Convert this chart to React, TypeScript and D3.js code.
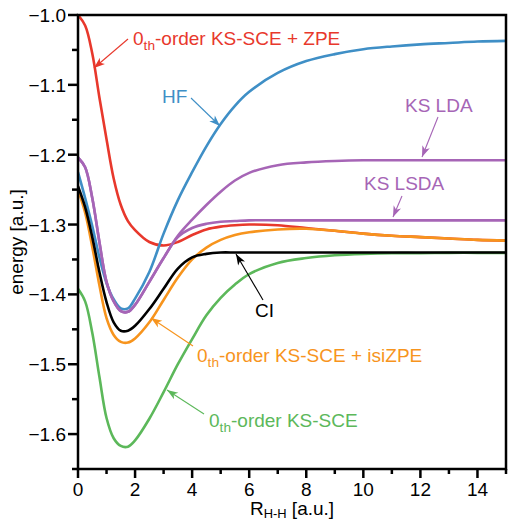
import React from "react";
import * as d3 from "d3";

const rGrid = [0, 0.25, 0.5, 0.75, 1, 1.25, 1.5, 1.75, 2, 2.5, 3, 3.5, 4, 4.5, 5, 5.5, 6, 7, 8, 9, 10, 11, 12, 13, 14, 15];

const zpe = [-1.0, -1.015, -1.055, -1.118, -1.178, -1.234, -1.272, -1.295, -1.308, -1.325, -1.33, -1.325, -1.315, -1.307, -1.303, -1.301, -1.3, -1.301, -1.305, -1.309, -1.313, -1.316, -1.318, -1.32, -1.322, -1.323];
const hf = [-1.225, -1.262, -1.302, -1.347, -1.384, -1.407, -1.42, -1.42, -1.406, -1.368, -1.313, -1.265, -1.225, -1.188, -1.156, -1.13, -1.11, -1.083, -1.066, -1.056, -1.049, -1.045, -1.042, -1.04, -1.038, -1.037];
const lda = [-1.204, -1.218, -1.262, -1.325, -1.382, -1.41, -1.424, -1.425, -1.415, -1.382, -1.348, -1.316, -1.293, -1.272, -1.253, -1.237, -1.226, -1.215, -1.211, -1.209, -1.208, -1.208, -1.208, -1.208, -1.208, -1.208];
const lsda = [-1.204, -1.218, -1.262, -1.325, -1.382, -1.41, -1.424, -1.425, -1.415, -1.382, -1.348, -1.318, -1.305, -1.299, -1.296, -1.295, -1.294, -1.294, -1.294, -1.294, -1.294, -1.294, -1.294, -1.294, -1.294, -1.294];
const ci = [-1.245, -1.275, -1.318, -1.368, -1.411, -1.44, -1.452, -1.452, -1.445, -1.421, -1.392, -1.363, -1.347, -1.342, -1.34, -1.34, -1.34, -1.34, -1.34, -1.34, -1.34, -1.34, -1.34, -1.34, -1.34, -1.34];
const isizpe = [-1.25, -1.283, -1.332, -1.387, -1.434, -1.458, -1.468, -1.469, -1.463, -1.44, -1.408, -1.376, -1.35, -1.333, -1.322, -1.315, -1.311, -1.307, -1.306, -1.309, -1.313, -1.316, -1.318, -1.32, -1.322, -1.323];
const sce = [-1.392, -1.41, -1.455, -1.518, -1.577, -1.606, -1.617, -1.618, -1.609, -1.578, -1.54, -1.5, -1.464, -1.43, -1.405, -1.386, -1.371, -1.355, -1.348, -1.344, -1.342, -1.341, -1.341, -1.3405, -1.3405, -1.3405];

const xMajor = [0, 2, 4, 6, 8, 10, 12, 14];
const xMinor = [1, 3, 5, 7, 9, 11, 13, 15];
const yMajor = [-1.0, -1.1, -1.2, -1.3, -1.4, -1.5, -1.6];
const yMinor = [-1.05, -1.15, -1.25, -1.35, -1.45, -1.55, -1.65];

const RED = "#e8382c";
const BLUE = "#3f8fc6";
const PURPLE = "#a665b6";
const ORANGE = "#f7941d";
const GREEN = "#5cb85a";
const BLACK = "#000000";

const series = [
  { name: "zpe", values: zpe, color: RED },
  { name: "hf", values: hf, color: BLUE },
  { name: "lsda", values: lsda, color: PURPLE },
  { name: "lda", values: lda, color: PURPLE },
  { name: "isizpe", values: isizpe, color: ORANGE },
  { name: "sce", values: sce, color: GREEN },
  { name: "ci", values: ci, color: BLACK },
];

const W = 508;
const H = 521;
const left = 78;
const right = 506;
const top = 15;
const bottom = 469;
const FONT = "'Liberation Sans', Arial, Helvetica, sans-serif";
const FS = 19;

function Sub({ x, y, main, sub, rest, color, anchor }: any) {
  return (
    <text x={x} y={y} fill={color} fontSize={FS} fontFamily={FONT} textAnchor={anchor || "start"}>
      {main}
      <tspan fontSize={FS * 0.72} dy={5}>{sub}</tspan>
      <tspan dy={-5}>{rest}</tspan>
    </text>
  );
}

export default function App() {
  const x = d3.scaleLinear().domain([0, 15]).range([left, right]);
  const y = d3.scaleLinear().domain([-1.0, -1.65]).range([top, bottom]);
  const line = d3
    .line<number>()
    .x((_, i) => x(rGrid[i]))
    .y((d) => y(d))
    .curve(d3.curveCatmullRom.alpha(0.5));

  const arrows = [
    { color: RED, x1: 128, y1: 39, x2: 94, y2: 68 },
    { color: BLUE, x1: 191, y1: 98, x2: 220, y2: 126 },
    { color: PURPLE, x1: 438, y1: 117, x2: 422, y2: 157 },
    { color: PURPLE, x1: 402, y1: 196, x2: 393, y2: 217 },
    { color: BLACK, x1: 263, y1: 300, x2: 236, y2: 254 },
    { color: ORANGE, x1: 193, y1: 346, x2: 151, y2: 318 },
    { color: GREEN, x1: 204, y1: 414, x2: 167, y2: 390 },
  ];

  return (
    <svg width={W} height={H} style={{ position: "absolute", left: 0, top: 0 }}>
      <defs>
        {arrows.map((a, i) => (
          <marker key={i} id={`ah${i}`} viewBox="-12 -6 14 12" refX={0} refY={0} markerWidth={14} markerHeight={12} markerUnits="userSpaceOnUse" orient="auto">
            <path d="M0,0 L-11,-4 L-8,0 L-11,4 Z" fill={a.color} />
          </marker>
        ))}
        <clipPath id="plot">
          <rect x={left} y={top} width={right - left} height={bottom - top} />
        </clipPath>
      </defs>
      <rect x={0} y={0} width={W} height={H} fill="#fff" />

      <g clipPath="url(#plot)">
        {series.map((s) => (
          <path key={s.name} d={line(s.values) || ""} fill="none" stroke={s.color} strokeWidth={2.6} />
        ))}
      </g>

      {arrows.map((a, i) => (
        <line key={i} x1={a.x1} y1={a.y1} x2={a.x2} y2={a.y2} stroke={a.color} strokeWidth={1.1} markerEnd={`url(#ah${i})`} />
      ))}

      <rect x={left} y={top} width={right - left} height={bottom - top} fill="none" stroke="#000" strokeWidth={2.5} />

      {xMajor.map((t) => (
        <g key={"xM" + t}>
          <line x1={x(t)} x2={x(t)} y1={bottom} y2={bottom + 9} stroke="#000" strokeWidth={2.5} />
          <text x={x(t)} y={496} textAnchor="middle" fontSize={FS} fontFamily={FONT}>{t}</text>
        </g>
      ))}
      {xMinor.map((t) => (
        <line key={"xm" + t} x1={x(t)} x2={x(t)} y1={bottom} y2={bottom + 5} stroke="#000" strokeWidth={2.5} />
      ))}
      {yMajor.map((t) => (
        <g key={"yM" + t}>
          <line x1={left - 10} x2={left} y1={y(t)} y2={y(t)} stroke="#000" strokeWidth={2.5} />
          <text x={66} y={y(t) + 7} textAnchor="end" fontSize={FS} fontFamily={FONT}>{"\u2212" + Math.abs(t).toFixed(1)}</text>
        </g>
      ))}
      {yMinor.map((t) => (
        <line key={"ym" + t} x1={left - 6} x2={left} y1={y(t)} y2={y(t)} stroke="#000" strokeWidth={2.5} />
      ))}

      <text x={292} y={515} textAnchor="middle" fontSize={FS} fontFamily={FONT}>
        R<tspan fontSize={FS * 0.68} dy={3}>H-H</tspan><tspan dy={-3}> [a.u.]</tspan>
      </text>
      <text transform={`translate(23,${(top + bottom) / 2}) rotate(-90)`} textAnchor="middle" fontSize={FS} fontFamily={FONT}>energy [a.u.]</text>

      <Sub x={133} y={45} main="0" sub="th" rest="-order KS-SCE + ZPE" color={RED} />
      <text x={162} y={103} fill={BLUE} fontSize={FS} fontFamily={FONT}>HF</text>
      <text x={405} y={112} fill={PURPLE} fontSize={FS} fontFamily={FONT}>KS LDA</text>
      <text x={364} y={190} fill={PURPLE} fontSize={FS} fontFamily={FONT}>KS LSDA</text>
      <text x={255} y={317} fill={BLACK} fontSize={FS} fontFamily={FONT}>CI</text>
      <Sub x={197} y={362} main="0" sub="th" rest="-order KS-SCE + isiZPE" color={ORANGE} />
      <Sub x={209} y={427} main="0" sub="th" rest="-order KS-SCE" color={GREEN} />
    </svg>
  );
}
